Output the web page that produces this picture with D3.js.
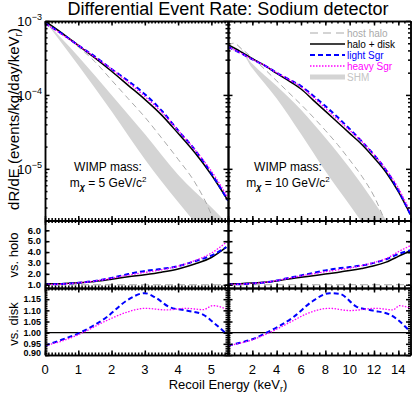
<!DOCTYPE html>
<html>
<head>
<meta charset="utf-8">
<script src="https://cdn.jsdelivr.net/npm/d3@7"></script>
<style>
  body { margin: 0; background: #fff; }
  text { font-family: "Liberation Sans", Arial, sans-serif; fill: #000; }
  .ax path, .ax line { stroke: #000; stroke-width: 1.5; }
  .ax text { display: none; }
</style>
</head>
<body>
<div id="chart"></div>
<script>
// values; rate curves are log10(dR/dE)
const rateX5 = [0, 0.5, 1, 1.5, 2, 2.5, 3, 3.5, 4, 4.5, 5, 5.5];
const disk5  = [-3.00, -3.16, -3.33, -3.50, -3.68, -3.87, -4.06, -4.27, -4.52, -4.78, -5.08, -5.43];
const light5 = [-3.03, -3.17, -3.33, -3.48, -3.65, -3.81, -3.99, -4.21, -4.48, -4.74, -5.06, -5.43];
const heavy5 = [-3.03, -3.18, -3.33, -3.49, -3.65, -3.83, -4.02, -4.23, -4.48, -4.74, -5.03, -5.39];
const host5  = [-3.00, -3.17, -3.35, -3.55, -3.80, -4.05, -4.30, -4.58, -4.87, -5.18, -5.62, -6.30];
const shmX5  = [0, 1, 2, 3, 4, 5, 5.5];
const shmHi5 = [-3.00, -3.48, -4.00, -4.53, -5.08, -5.52, -5.75];
const shmLo5 = [-3.00, -3.60, -4.22, -4.87, -5.45, -6.00, -6.30];

const rateX10 = [0, 1, 2, 3, 4, 5, 6, 7, 8, 9, 10, 11, 12, 13, 14, 14.5, 15];
const disk10  = [-3.32, -3.41, -3.51, -3.60, -3.71, -3.81, -3.92, -4.07, -4.22, -4.37, -4.52, -4.67, -4.85, -5.05, -5.31, -5.46, -5.62];
const light10 = [-3.35, -3.43, -3.52, -3.60, -3.70, -3.79, -3.88, -4.01, -4.15, -4.30, -4.46, -4.63, -4.81, -5.02, -5.29, -5.45, -5.62];
const heavy10 = [-3.35, -3.43, -3.52, -3.60, -3.70, -3.79, -3.89, -4.03, -4.18, -4.33, -4.48, -4.63, -4.81, -5.01, -5.26, -5.42, -5.58];
const hostX10 = [0, 0.5, 1, 2, 3, 4, 5, 6, 7, 8, 9, 10, 11, 12, 13, 14];
const host10  = [-3.33, -3.30, -3.36, -3.50, -3.65, -3.81, -3.97, -4.13, -4.30, -4.48, -4.67, -4.88, -5.10, -5.37, -5.75, -6.20];
const shmX10  = [0, 0.5, 2, 4, 6, 8, 10, 12, 14];
const shmHi10 = [-3.33, -3.30, -3.58, -3.88, -4.20, -4.58, -4.99, -5.45, -5.95];
const shmLo10 = [-3.33, -3.30, -3.64, -4.05, -4.53, -5.03, -5.49, -5.95, -6.40];

// ratio to host halo
const haloX5 = [0, 0.5, 1, 1.5, 2, 2.5, 3, 3.5, 4, 4.5, 5, 5.45];
const haloDisk5  = [1.08, 1.10, 1.18, 1.30, 1.50, 1.73, 1.92, 2.15, 2.45, 2.90, 3.50, 4.45];
const haloLight5 = [1.02, 1.07, 1.18, 1.35, 1.63, 1.98, 2.26, 2.45, 2.71, 3.16, 3.68, 4.45];
const haloHeavy5 = [1.02, 1.06, 1.17, 1.34, 1.59, 1.89, 2.13, 2.37, 2.70, 3.21, 3.91, 4.90];
const haloX10 = [0, 1, 2, 3, 4, 5, 6, 7, 8, 9, 10, 11, 12, 13, 14, 15];
const haloDisk10  = [1.08, 1.10, 1.15, 1.22, 1.35, 1.53, 1.68, 1.83, 1.98, 2.13, 2.30, 2.50, 2.74, 3.08, 3.60, 4.15];
const haloLight10 = [1.02, 1.05, 1.12, 1.21, 1.39, 1.62, 1.85, 2.09, 2.32, 2.50, 2.62, 2.77, 3.01, 3.34, 3.82, 4.17];
const haloHeavy10 = [1.02, 1.05, 1.12, 1.21, 1.38, 1.60, 1.81, 2.00, 2.19, 2.36, 2.53, 2.76, 3.04, 3.40, 4.03, 4.60];

// ratio to halo + disk
const lightX5 = [0, 0.5, 1.05, 1.85, 2.45, 3.0, 3.3, 3.75, 4.25, 4.75, 5.05, 5.45];
const lightDisk5 = [0.942, 0.968, 1.0, 1.069, 1.143, 1.177, 1.159, 1.114, 1.099, 1.081, 1.047, 0.995];
const heavyX5 = [0, 0.5, 1.05, 1.85, 2.45, 3.0, 3.65, 4.25, 4.75, 5.05, 5.45];
const heavyDisk5 = [0.942, 0.962, 0.994, 1.054, 1.091, 1.109, 1.102, 1.109, 1.103, 1.121, 1.106];
const lightX10 = [0, 1, 2.08, 3.17, 5.36, 7.0, 8.36, 9.18, 10.55, 11.9, 13.3, 14.9];
const lightDisk10 = [0.942, 0.955, 0.972, 1.0, 1.069, 1.143, 1.177, 1.174, 1.117, 1.099, 1.081, 1.009];
const heavyX10 = [0, 1, 2, 3.17, 5.36, 6.45, 8.36, 10.0, 12.2, 13.55, 14.1, 14.9];
const heavyDisk10 = [0.942, 0.953, 0.968, 0.994, 1.054, 1.084, 1.109, 1.099, 1.109, 1.102, 1.121, 1.111];

const rateTicks = [1e-3, 1e-4, 1e-5];
const haloTicks = [1, 2, 3, 4, 5, 6];
const diskTicks = [0.90, 0.95, 1.00, 1.05, 1.10, 1.15];

const legendNames = ['host halo', 'halo + disk', 'light Sgr', 'heavy Sgr', 'SHM'];

const colors = { host: '#aaaaaa', disk: '#000', light: '#0000ff', heavy: '#ff00ff', shm: '#d4d4d4' };

const panels = [
  {
    cols: [45, 228], xMax: 5.5, major: 1, minor: 0.1, labels: [0, 1, 2, 3, 4, 5], mass: '5',
    rateX: rateX5, disk: disk5, light: light5, heavy: heavy5, hostX: rateX5, host: host5,
    shmX: shmX5, shmHi: shmHi5, shmLo: shmLo5,
    haloX: haloX5, haloDisk: haloDisk5, haloLight: haloLight5, haloHeavy: haloHeavy5,
    lightX: lightX5, lightDisk: lightDisk5, heavyX: heavyX5, heavyDisk: heavyDisk5,
  },
  {
    cols: [228, 410.5], xMax: 15, major: 2, minor: 0.5, labels: [2, 4, 6, 8, 10, 12, 14], mass: '10',
    rateX: rateX10, disk: disk10, light: light10, heavy: heavy10, hostX: hostX10, host: host10,
    shmX: shmX10, shmHi: shmHi10, shmLo: shmLo10,
    haloX: haloX10, haloDisk: haloDisk10, haloLight: haloLight10, haloHeavy: haloHeavy10,
    lightX: lightX10, lightDisk: lightDisk10, heavyX: heavyX10, heavyDisk: heavyDisk10,
  },
];

const rows = { rate: [220.5, 21], halo: [288, 220.5], disk: [355, 288] };

const svg = d3.select('#chart').append('svg').attr('width', 412).attr('height', 394);
const defs = svg.append('defs');

const zip = (xs, ys) => xs.map((v, i) => [v, ys[i]]);

function frame(g, x, y, xMaj, xMin, yMaj, yMin) {
  const [yb, yt] = y.range();
  const [xl, xr] = x.range();
  const add = (axis, tr) => g.append('g').attr('class', 'ax').attr('transform', tr).call(axis);
  [[xMin, 2.5], [xMaj, 4.5]].forEach(([vals, len]) => {
    add(d3.axisBottom(x).tickValues(vals).tickSizeInner(-len).tickSizeOuter(0), `translate(0,${yb})`);
    add(d3.axisTop(x).tickValues(vals).tickSizeInner(-len).tickSizeOuter(0), `translate(0,${yt})`);
  });
  [[yMin, 2.5], [yMaj, 4.5]].forEach(([vals, len]) => {
    add(d3.axisLeft(y).tickValues(vals).tickSizeInner(-len).tickSizeOuter(0), `translate(${xl},0)`);
    add(d3.axisRight(y).tickValues(vals).tickSizeInner(-len).tickSizeOuter(0), `translate(${xr},0)`);
  });
}

function clipFor(id, x, y) {
  defs.append('clipPath').attr('id', id).append('rect')
    .attr('x', x.range()[0]).attr('y', y.range()[1])
    .attr('width', x.range()[1] - x.range()[0]).attr('height', y.range()[0] - y.range()[1]);
  return `url(#${id})`;
}

function curve(g, pts, x, y, color, width, dash) {
  g.append('path')
    .attr('d', d3.line().x(d => x(d[0])).y(d => y(d[1])).curve(d3.curveMonotoneX)(pts))
    .attr('fill', 'none').attr('stroke', color).attr('stroke-width', width)
    .attr('stroke-dasharray', dash || null);
}

// minor ticks for the log axis
const rateMinor = [];
[-6, -5, -4].forEach(e => d3.range(2, 10).forEach(k => {
  const v = k * Math.pow(10, e);
  if (v >= 2e-6 && v <= 1e-3) rateMinor.push(v);
}));

panels.forEach((p, i) => {
  const x = d3.scaleLinear().domain([0, p.xMax]).range(p.cols);
  const xMaj = d3.range(0, p.xMax + 1e-9, p.major);
  const xMin = d3.range(0, p.xMax + 1e-9, p.minor);

  // rate panel
  const yR = d3.scaleLog().domain([2e-6, 1e-3]).range(rows.rate);
  const gR = svg.append('g');
  const cR = gR.append('g').attr('clip-path', clipFor('cr' + i, x, yR));
  const pow = v => Math.pow(10, v);
  cR.append('path')
    .attr('d', d3.area().x(d => x(d[0])).y0(d => yR(pow(d[2]))).y1(d => yR(pow(d[1])))
      .curve(d3.curveMonotoneX)(p.shmX.map((v, k) => [v, p.shmHi[k], p.shmLo[k]])))
    .attr('fill', colors.shm);
  const ly = v => yR(pow(v));
  curve(cR, zip(p.hostX, p.host), x, ly, colors.host, 1, '6,4');
  curve(cR, zip(p.rateX, p.disk), x, ly, colors.disk, 1.5);
  curve(cR, zip(p.rateX, p.light), x, ly, colors.light, 2, '5,3');
  curve(cR, zip(p.rateX, p.heavy), x, ly, colors.heavy, 1.3, '1.5,1.5');
  frame(gR, x, yR, xMaj, xMin, rateTicks, rateMinor);

  // mass note
  const cx = i === 0 ? 108 : 288;
  gR.append('text').attr('x', cx).attr('y', 171).attr('text-anchor', 'middle')
    .style('font-size', '12px').text('WIMP mass:');
  const m = gR.append('text').attr('x', cx).attr('y', 186.5).attr('text-anchor', 'middle')
    .style('font-size', '12px');
  m.append('tspan').text('m');
  m.append('tspan').attr('dy', 3).style('font-size', '9px').style('font-weight', 'bold')
    .style('font-style', 'italic').text('χ');
  m.append('tspan').attr('dy', -3).text(` = ${p.mass} GeV/c`);
  m.append('tspan').attr('dy', -5).style('font-size', '8px').text('2');

  // vs. halo panel
  const yH = d3.scaleLinear().domain([0.7, 6.9]).range(rows.halo);
  const gH = svg.append('g');
  const cH = gH.append('g').attr('clip-path', clipFor('ch' + i, x, yH));
  curve(cH, [[0, 1], [p.xMax, 1]], x, yH, colors.host, 1, '8,4');
  curve(cH, zip(p.haloX, p.haloDisk), x, yH, colors.disk, 1.5);
  curve(cH, zip(p.haloX, p.haloLight), x, yH, colors.light, 2, '5,3');
  curve(cH, zip(p.haloX, p.haloHeavy), x, yH, colors.heavy, 1.3, '1.5,1.5');
  frame(gH, x, yH, xMaj, xMin, haloTicks, haloTicks);

  // vs. disk panel
  const yD = d3.scaleLinear().domain([0.9, 1.2]).range(rows.disk);
  const gD = svg.append('g');
  const cD = gD.append('g').attr('clip-path', clipFor('cd' + i, x, yD));
  curve(cD, [[0, 1], [p.xMax, 1]], x, yD, colors.disk, 1.3);
  curve(cD, zip(p.lightX, p.lightDisk), x, yD, colors.light, 2, '5,3');
  curve(cD, zip(p.heavyX, p.heavyDisk), x, yD, colors.heavy, 1.3, '1.5,1.5');
  frame(gD, x, yD, xMaj, xMin, diskTicks, d3.range(0.9, 1.2001, 0.01));

  // x tick labels
  svg.append('g').selectAll('text').data(p.labels).join('text')
    .attr('x', d => x(d)).attr('y', 373.5).attr('text-anchor', 'middle')
    .style('font-size', '13px').text(d => d);

  if (i === 0) {
    const yl = svg.append('g');
    rateTicks.forEach(t => {
      const tx = yl.append('text').attr('x', 42).attr('y', yR(t) + 5).attr('text-anchor', 'end')
        .style('font-size', '13px');
      tx.append('tspan').text('10');
      tx.append('tspan').attr('dy', -6).style('font-size', '9px').text('−' + (-Math.log10(t)).toFixed(0));
    });
    yl.selectAll('.h').data(haloTicks).join('text').attr('class', 'h')
      .attr('x', 41).attr('y', d => yH(d) + 3.3).attr('text-anchor', 'end')
      .style('font-size', '9.5px').style('font-weight', 'bold').text(d => d.toFixed(1));
    yl.selectAll('.d').data(diskTicks).join('text').attr('class', 'd')
      .attr('x', 41).attr('y', d => Math.min(yD(d), 353) + 3.2).attr('text-anchor', 'end')
      .style('font-size', '9px').style('font-weight', 'bold').text(d => d.toFixed(2));
  }
});

// legend in the right rate panel
const legY = [33, 44, 55, 66, 77];
const legStyles = [
  { c: colors.host, w: 1.2, dash: '8,5' },
  { c: colors.disk, w: 1.5 },
  { c: colors.light, w: 2, dash: '5,3' },
  { c: colors.heavy, w: 1.3, dash: '1.5,1.5' },
  { c: colors.shm, w: 5 },
];
const leg = svg.append('g');
legendNames.forEach((name, k) => {
  const s = legStyles[k];
  leg.append('line').attr('x1', 310).attr('x2', 345).attr('y1', legY[k]).attr('y2', legY[k])
    .attr('stroke', s.c).attr('stroke-width', s.w).attr('stroke-dasharray', s.dash || null);
  leg.append('text').attr('x', 347).attr('y', legY[k] + 3.5).style('font-size', '10px')
    .style('fill', k === 4 ? '#c4c4c4' : s.c).text(name);
});

// titles
svg.append('text').attr('x', 228).attr('y', 15).attr('text-anchor', 'middle')
  .style('font-size', '18px').text('Differential Event Rate: Sodium detector');

const xt = svg.append('text').attr('x', 228).attr('y', 389).attr('text-anchor', 'middle')
  .style('font-size', '13px');
xt.append('tspan').text('Recoil Energy (keV');
xt.append('tspan').attr('dy', 2.5).style('font-size', '9px').text('r');
xt.append('tspan').attr('dy', -2.5).text(')');

const yt = svg.append('text').attr('transform', 'translate(19,119) rotate(-90)')
  .attr('text-anchor', 'middle').style('font-size', '15px');
yt.append('tspan').text('dR/dE (events/kg/day/keV');
yt.append('tspan').attr('dy', 3).style('font-size', '10px').text('r');
yt.append('tspan').attr('dy', -3).text(')');

svg.append('text').attr('transform', 'translate(18,255) rotate(-90)')
  .attr('text-anchor', 'middle').style('font-size', '13px').text('vs. holo');
svg.append('text').attr('transform', 'translate(18,324) rotate(-90)')
  .attr('text-anchor', 'middle').style('font-size', '13px').text('vs. disk');
</script>
</body>
</html>
